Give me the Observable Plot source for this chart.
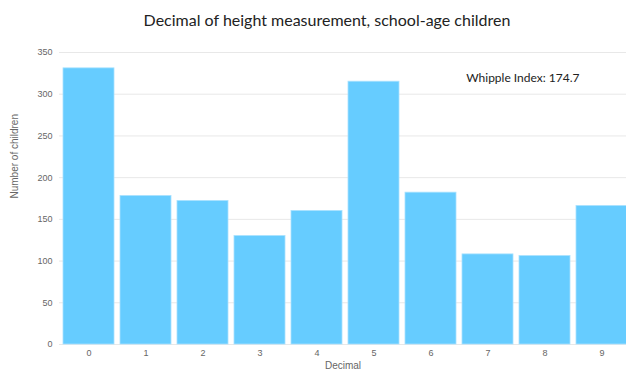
<!DOCTYPE html>
<html>
<head>
<meta charset="utf-8">
<script src="https://cdn.jsdelivr.net/npm/d3@7"></script>
<script src="https://cdn.jsdelivr.net/npm/@observablehq/plot@0.6"></script>
<style>
  html, body { margin: 0; padding: 0; background: #fff; }
  #title { height: 40px; width: 626px; font-family: Lato, "Open Sans", sans-serif; font-size: 16px; color: #222;
           text-align: center; line-height: 40px; padding-left: 28px; box-sizing: border-box; }
</style>
</head>
<body>
<div id="title">Decimal of height measurement, school-age children</div>
<div id="chart"></div>
<script>
const decimals = ["0","1","2","3","4","5","6","7","8","9"];
const counts = [331, 178, 172, 130, 160, 315, 182, 108, 106, 166];
const yTicks = [0, 50, 100, 150, 200, 250, 300, 350];
const annotation = ["Whipple Index: 174.7"];

const data = decimals.map((d, i) => ({decimal: d, count: counts[i]}));

const chart = Plot.plot({
  width: 626,
  height: 331,
  marginTop: 12,
  marginBottom: 27,
  marginLeft: 59,
  marginRight: 0,
  style: {fontFamily: "'Liberation Sans', Arial, sans-serif", fontSize: "9px", color: "#666", background: "#fff"},
  x: {domain: decimals, range: [56.5, 633], padding: 0.1, label: null},
  y: {domain: [0, 350], ticks: yTicks, label: null},
  marks: [
    Plot.gridY(yTicks, {stroke: "#e8e8e8", strokeOpacity: 1}),
    Plot.barY(data, {x: "decimal", y: "count", fill: "#66ccff", stroke: "#a8e2ff", strokeWidth: 0.8}),
    Plot.axisY(yTicks, {tickSize: 0, tickPadding: 7, label: null, fill: "#666"}),
    Plot.axisX({tickSize: 0, tickPadding: 5, label: null, fill: "#666"}),
    Plot.text(["Number of children"], {frameAnchor: "left", dx: -45, rotate: -90, fill: "#666", fontSize: 10}),
    Plot.text(["Decimal"], {frameAnchor: "bottom", dy: 24, fill: "#666", fontSize: 10}),
    Plot.text(annotation, {frameAnchor: "top-right", dx: -47, dy: 21, textAnchor: "end", fill: "#222",
                           fontSize: 12, fontFamily: "Lato, sans-serif"})
  ]
});
document.getElementById("chart").appendChild(chart);
</script>
</body>
</html>
